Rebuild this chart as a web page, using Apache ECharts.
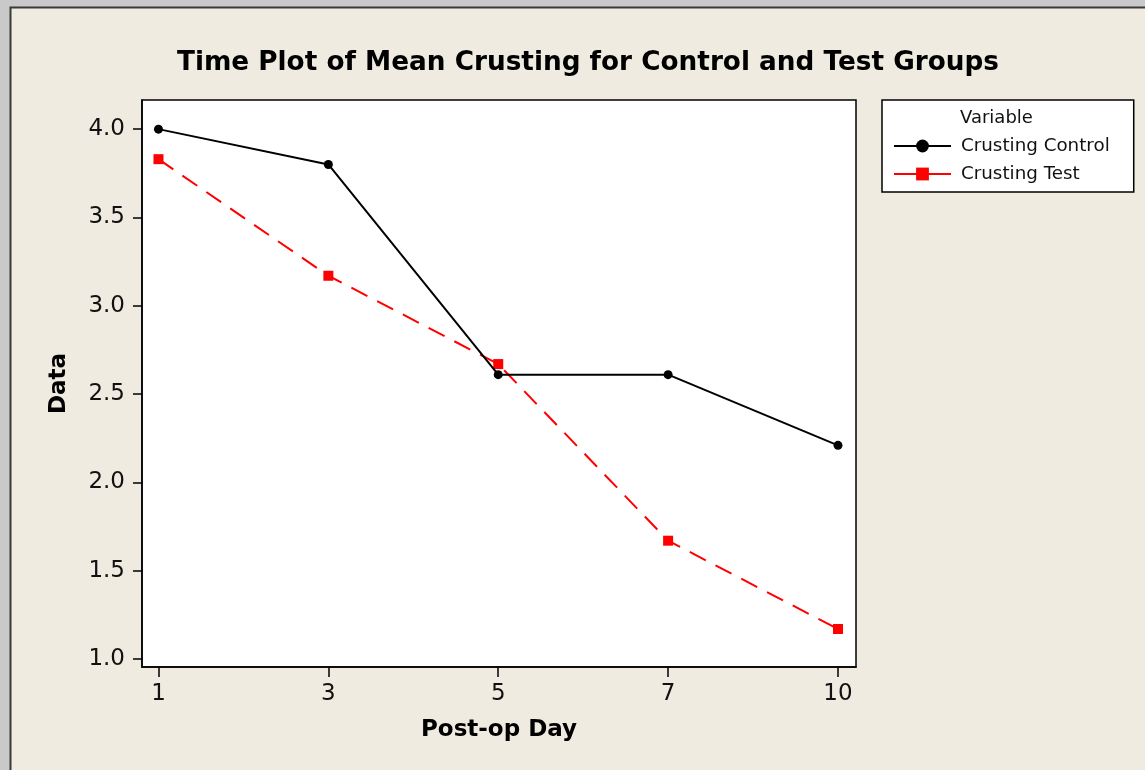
<!DOCTYPE html>
<html>
<head>
<meta charset="utf-8">
<style>
html,body{margin:0;padding:0;background:#c9c9c9;}
#chart{width:1145px;height:770px;}
</style>
<script src="https://cdn.jsdelivr.net/npm/echarts@6/dist/echarts.min.js"></script>
</head>
<body>
<div id="chart"></div>
<script>
var days = ['1', '3', '5', '7', '10'];
var crustingControl = [4.0, 3.8, 2.61, 2.61, 2.21];
var crustingTest = [3.83, 3.17, 2.67, 1.67, 1.17];
var yTicks = [1.0, 1.5, 2.0, 2.5, 3.0, 3.5, 4.0];
var xTicks = [0, 1, 2, 3, 4];
var seriesNames = ['Crusting Control', 'Crusting Test'];

var chart = echarts.init(document.getElementById('chart'), null, {renderer: 'canvas'});
var font = 'DejaVu Sans';

var option = {
  backgroundColor: '#c9c9c9',
  animation: false,
  graphic: [{
    type: 'rect', z: -10,
    shape: {x: 10.5, y: 7.5, width: 1200, height: 900},
    style: {fill: '#efebe1', stroke: '#3a3a3a', lineWidth: 2}
  }],
  title: [{
    text: 'Time Plot of Mean Crusting for Control and Test Groups',
    left: 583, top: 45, textAlign: 'center',
    textStyle: {fontFamily: font, fontWeight: 'bold', fontSize: 26.3, color: '#000'}
  }, {
    text: 'Variable',
    left: 960, top: 109,
    padding: 0,
    textStyle: {fontFamily: font, fontWeight: 'normal', fontSize: 18, color: '#111'}
  }],
  legend: {
    orient: 'vertical',
    left: 882, top: 100,
    padding: [36, 24, 8, 11],
    itemGap: 8,
    itemWidth: 57, itemHeight: 16,
    backgroundColor: '#fff',
    borderColor: '#000', borderWidth: 1.5,
    borderRadius: 0,
    textStyle: {fontFamily: font, fontSize: 18.3, color: '#111', lineHeight: 20, padding: [0, 0, 0, 5]},
    data: [
      {name: seriesNames[0], lineStyle: {type: 'solid', width: 2}},
      {name: seriesNames[1], lineStyle: {type: 'solid', width: 2}}
    ]
  },
  grid: {
    left: 142, top: 100, right: 289, bottom: 103,
    show: true, backgroundColor: '#fff', borderColor: '#000', borderWidth: 1.5,
    containLabel: false
  },
  xAxis: {
    type: 'value',
    min: -0.097, max: 4.106,
    splitLine: {show: false},
    axisLine: {show: true, onZero: false, lineStyle: {color: '#000', width: 1.5}},
    axisTick: {show: true, inside: false, length: 10, lineStyle: {color: '#000', width: 1.5}, customValues: xTicks},
    axisLabel: {
      customValues: xTicks,
      margin: 16,
      fontFamily: font, fontSize: 23, color: '#111',
      formatter: function (v) { return days[Math.round(v)]; }
    },
    name: 'Post-op Day',
    nameLocation: 'middle',
    nameGap: 52,
    nameTextStyle: {fontFamily: font, fontWeight: 'bold', fontSize: 23, color: '#000'}
  },
  yAxis: {
    type: 'value',
    min: 0.955, max: 4.165,
    splitLine: {show: false},
    axisLine: {show: true, onZero: false, lineStyle: {color: '#000', width: 1.5}},
    axisTick: {show: true, inside: false, length: 9, lineStyle: {color: '#000', width: 1.5}, customValues: yTicks},
    axisLabel: {
      customValues: yTicks,
      margin: 17,
      fontFamily: font, fontSize: 23, color: '#111',
      formatter: function (v) { return v.toFixed(1); }
    },
    name: 'Data',
    nameLocation: 'middle',
    nameRotate: 90,
    nameGap: 71,
    nameTextStyle: {fontFamily: font, fontWeight: 'bold', fontSize: 23, color: '#000'}
  },
  series: [{
    name: seriesNames[1],
    type: 'line',
    data: crustingTest.map(function (v, i) { return [i, v]; }),
    symbol: 'rect', symbolSize: 10,
    itemStyle: {color: '#ff0000'},
    lineStyle: {color: '#ff0000', width: 2, type: [18, 11]},
    z: 2
  }, {
    name: seriesNames[0],
    type: 'line',
    data: crustingControl.map(function (v, i) { return [i, v]; }),
    symbol: 'circle', symbolSize: 9,
    itemStyle: {color: '#000'},
    lineStyle: {color: '#000', width: 2},
    z: 3
  }]
};
chart.setOption(option);
</script>
</body>
</html>
